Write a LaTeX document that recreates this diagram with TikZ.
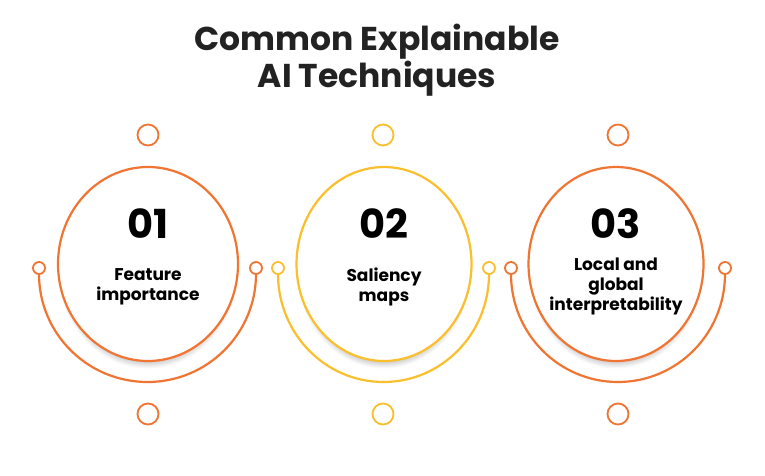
\documentclass[tikz,border=0pt]{standalone}
\usepackage{fontspec}
\setmainfont{Poppins}
\definecolor{orng}{HTML}{F07432}
\definecolor{yllw}{HTML}{F9BF2C}
\definecolor{ink}{HTML}{222222}
\tikzset{
  ringshape/.style={draw=#1, line width=2.2pt, fill=white},
  softshade/.style={fill=black, opacity=0.022},
  dot/.style 2 args={circle, draw=#1, line width=1.8pt, fill=white, minimum size=#2, inner sep=0pt},
  arcline/.style={draw=#1, line width=2.2pt},
  numtxt/.style={font=\fontsize{40}{44}\selectfont\bfseries, text=black},
  labtxt/.style={font=\fontsize{17}{20}\selectfont\bfseries, text=black, align=center},
  titletxt/.style={font=\fontsize{33}{37}\selectfont\bfseries, text=ink, align=center}
}
\newcommand{\ringshadow}[3]{%
  \foreach \k in {0,...,6} {
    \path[softshade] (#1,#2+7) ellipse [x radius=#3pt-6pt+\k*0.9pt, y radius=97pt-5pt+\k*0.9pt];
  }}
\begin{document}
\begin{tikzpicture}[x=1pt,y=-1pt]
\useasboundingbox (0,0) rectangle (765,476);
\fill[white] (0,0) rectangle (765,476);
\node[titletxt] (title) at (377,60) {Common Explainable\\AI Techniques};

% item 1
\draw[arcline=orng] (39,274) arc[start angle=180, end angle=360, x radius=108.5pt, y radius=108pt];
\ringshadow{148}{264}{90}
\path[ringshape=orng] (148,264) ellipse [x radius=90pt, y radius=97pt];
\node[dot={orng}{12pt}] (l1) at (39,268) {};
\node[dot={orng}{12pt}] (r1) at (256,268) {};
\node[dot={orng}{21pt}] (t1) at (148,135) {};
\node[dot={orng}{21pt}] (b1) at (148,414) {};
\node[numtxt] (n1) at (148,224) {01};
\node[labtxt] (c1) at (148,287) {Feature\\importance};

% item 2
\draw[arcline=yllw] (278,274) arc[start angle=180, end angle=360, x radius=105.5pt, y radius=108pt];
\ringshadow{384}{264}{87.5}
\path[ringshape=yllw] (384,264) ellipse [x radius=87.5pt, y radius=97pt];
\node[dot={yllw}{12pt}] (l2) at (278,268) {};
\node[dot={yllw}{12pt}] (r2) at (489,268) {};
\node[dot={yllw}{21pt}] (t2) at (383,135) {};
\node[dot={yllw}{21pt}] (b2) at (383,414) {};
\node[numtxt] (n2) at (384,224) {02};
\node[labtxt] (c2) at (384,287) {Saliency\\maps};

% item 3
\draw[arcline=orng] (511,274) arc[start angle=180, end angle=360, x radius=107pt, y radius=108pt];
\ringshadow{616}{264}{87.5}
\path[ringshape=orng] (616,264) ellipse [x radius=87.5pt, y radius=97pt];
\node[dot={orng}{12pt}] (l3) at (511,268) {};
\node[dot={orng}{12pt}] (r3) at (725,268) {};
\node[dot={orng}{21pt}] (t3) at (618,135) {};
\node[dot={orng}{21pt}] (b3) at (618,414) {};
\node[numtxt] (n3) at (616,224) {03};
\node[labtxt] (c3) at (616,286) {Local and\\global\\interpretability};
\end{tikzpicture}
\end{document}
